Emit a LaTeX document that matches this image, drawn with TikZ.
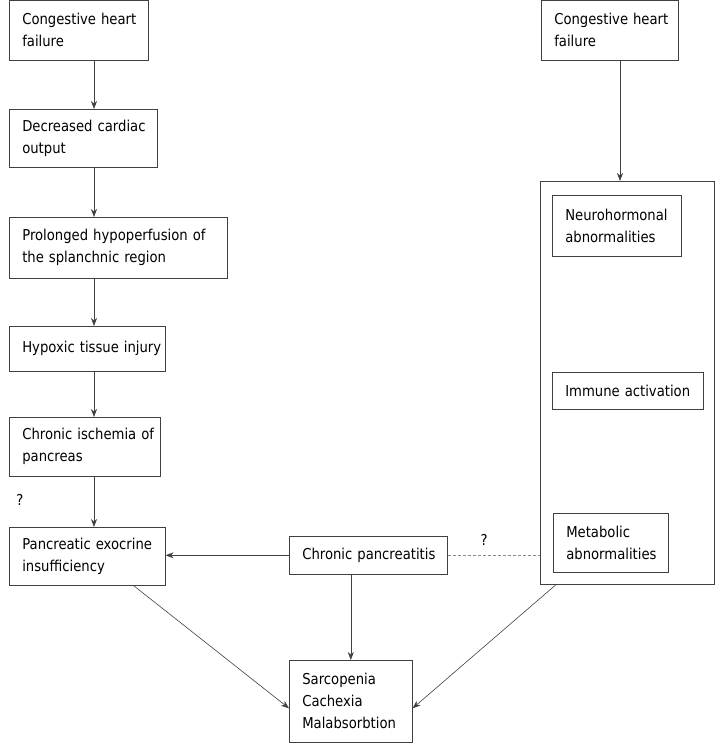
\documentclass[tikz,border=0pt]{standalone}
\usepackage{fontspec}
\setmainfont{DejaVu Sans}[FakeStretch=0.88]
\usetikzlibrary{arrows.meta}
\tikzset{
  box/.style={draw=black!75, line width=0.6pt, anchor=north west, align=left, inner xsep=13pt, inner ysep=0pt, font=\fontsize{15}{22}\selectfont, execute at begin node={\lefthyphenmin=64 \hyphenpenalty=10000}},
  arr/.style={draw=black!75, line width=0.6pt, -{Stealth[length=8pt,width=6pt]}},
}
\begin{document}
\begin{tikzpicture}[x=1pt,y=-1pt]
  \useasboundingbox (0,0) rectangle (724,752);
  % left column
  \node [box, text width=113pt, minimum height=60pt] (chfa) at (9,0) {Congestive~heart\\failure};
  \node [box, text width=122pt, minimum height=58pt] (output) at (9,109) {Decreased~cardiac\\output};
  \node [box, text width=192pt, minimum height=61pt] (hypoperf) at (9,217) {\makebox[193pt][s]{Prolonged hypoperfusion of}\\the~splanchnic~region};
  \node [box, text width=130pt, minimum height=45pt] (hypoxic) at (9,326) {Hypoxic~tissue~injury};
  \node [box, text width=125pt, minimum height=59pt] (ischemia) at (9,417) {Chronic~ischemia~of\\pancreas};
  \node [box, text width=130pt, minimum height=58pt] (pei) at (9,527) {Pancreatic~exocrine\\insufficiency};
  \coordinate (col) at (94,0);
  \draw [arr] (chfa.south -| col) -- (output.north -| col);
  \draw [arr] (output.south -| col) -- (hypoperf.north -| col);
  \draw [arr] (hypoperf.south -| col) -- (hypoxic.north -| col);
  \draw [arr] (hypoxic.south -| col) -- (ischemia.north -| col);
  \draw [arr] (ischemia.south -| col) -- (pei.north -| col);
  \node [font=\fontsize{15}{22}\selectfont] (qa) at (20,500) {?};
  % middle
  \node [box, text width=132pt, minimum height=38pt] (pancr) at (289,536) {Chronic~pancreatitis};
  \node [box, text width=97pt, minimum height=82pt] (result) at (289,660) {Sarcopenia\\Cachexia\\Malabsorbtion};
  \draw [arr] (pancr.west) -- (pancr.west -| pei.east);
  \draw [arr] (pancr.south -| result.north) -- (result.north);
  \draw [arr] ([xshift=-32pt]pei.south east) -- ([yshift=-7pt]result.west);
  % right column
  \node [box, text width=111pt, minimum height=60pt] (chfb) at (541,0) {Congestive~heart\\failure};
  \node [box, minimum width=174pt, minimum height=403pt] (group) at (540,181) {};
  \node [box, text width=103pt, minimum height=61pt] (neuro) at (552,195) {Neurohormonal\\abnormalities};
  \node [box, text width=125pt, minimum height=37pt] (immune) at (552,372) {Immune~activation};
  \node [box, text width=89pt, minimum height=59pt] (metab) at (553,513) {Metabolic\\abnormalities};
  \coordinate (colb) at (620,0);
  \draw [arr] (chfb.south -| colb) -- (group.north -| colb);
  \draw [draw=black!45, line width=0.8pt, dash pattern=on 3pt off 2pt] (pancr.east) -- (pancr.east -| group.west);
  \node [font=\fontsize{15}{22}\selectfont] (qb) at (484,540) {?};
  \draw [arr] ([xshift=16pt]group.south west) -- ([yshift=-7pt]result.east);
\end{tikzpicture}
\end{document}
